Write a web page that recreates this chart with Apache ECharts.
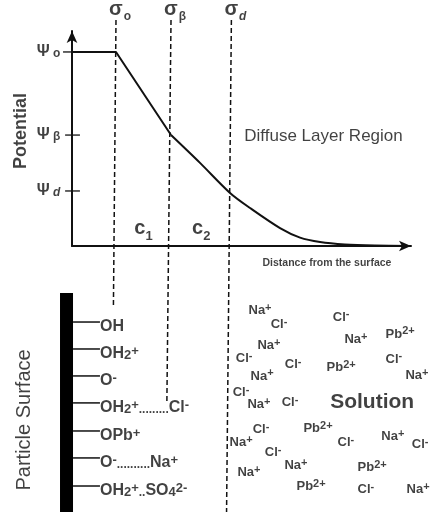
<!DOCTYPE html>
<html><head><meta charset="utf-8">
<script src="https://cdn.jsdelivr.net/npm/echarts@6/dist/echarts.min.js"></script>
<style>html,body{margin:0;padding:0;background:#fff}#c{width:430px;height:512px}</style>
</head><body><div id="c"></div>
<script>
// ---------------- data ----------------
// potential curve: distance from surface vs potential
const curveDistance  = [0, 12.75, 28.7, 37.1, 45.8, 51.6, 60.3, 66.1, 71.9, 79.1, 87.8, 98.0];
const curvePotential = [87.8, 87.8, 50.2, 37.6, 24.0, 17.2, 8.1, 3.8, 1.8, 0.7, 0.2, 0];
// potential levels marked on the y axis
const potentialTickNames  = ['o', 'β', 'd'];
const potentialTickValues = [87.8, 50.2, 24.9];
// charge planes (sigma) : distance at top and bottom of their dashed lines
const planeNames          = ['o', 'β', 'd'];
const planeTopDistance    = [12.75, 28.7, 46.2];
const planeBottomDistance = [12.0, 27.5, 44.8];
const planeBottomDepth    = [-28.1, -70.6, -120.4];
const planeTopLevel       = 102.3;
// capacitance regions
const regionNames = ['1', '2'];
const regionLevel = 7.7;
// particle surface groups
const surfaceGroups = [
  'OH',
  'OH{sub|2}{sup|+}',
  'O{sup|-}',
  'OH{sub|2}{sup|+}{dot|.........}Cl{sup|-}',
  'OPb{sup|+}',
  'O{sup|-}{dot|..........}Na{sup|+}',
  'OH{sub|2}{sup|+}{dot|..}SO{sub|4}{sup|2-}'
];
const surfaceRowDepth = [-34.4, -46.6, -58.8, -71.0, -83.7, -95.9, -108.6];
// ions in solution
const ionNames = ['Na{sup|+}','Cl{sup|-}','Cl{sup|-}','Na{sup|+}','Na{sup|+}','Pb{sup|2+}','Cl{sup|-}','Cl{sup|-}','Pb{sup|2+}','Cl{sup|-}',
  'Na{sup|+}','Na{sup|+}','Cl{sup|-}','Na{sup|+}','Cl{sup|-}','Cl{sup|-}','Pb{sup|2+}','Na{sup|+}','Na{sup|+}','Cl{sup|-}',
  'Cl{sup|-}','Cl{sup|-}','Na{sup|+}','Pb{sup|2+}','Na{sup|+}','Pb{sup|2+}','Cl{sup|-}','Na{sup|+}'];
const ionDistance = [54.5, 60.0, 78.0, 57.1, 82.3, 95.1, 49.9, 64.1, 78.0, 93.3,
  55.1, 100.0, 49.0, 54.2, 63.2, 54.8, 71.3, 93.0, 49.0, 79.4,
  100.9, 58.3, 64.9, 87.0, 51.3, 69.3, 85.2, 100.3];
const ionDepth = [-29.0, -35.7, -32.1, -45.2, -42.1, -39.8, -50.7, -53.8, -54.8, -51.1,
  -58.8, -58.4, -66.1, -71.5, -71.0, -82.8, -82.4, -86.0, -89.1, -89.1,
  -90.0, -93.2, -99.1, -100.0, -102.3, -109.0, -110.0, -110.0];
const titles = {
  potential: 'Potential',
  distance: 'Distance from the surface',
  diffuse: 'Diffuse Layer Region',
  surface: 'Particle Surface',
  solution: 'Solution'
};

// ---------------- layout ----------------
const W = 430, H = 512;
const ORIGIN_X = 72, ORIGIN_Y = 246;      // pixel of (0,0)
const PX_X = 3.45, PX_Y = 2.21;           // pixels per unit
const AXIS_END_X = 411, AXIS_END_Y = 31;
const FONT = '"Liberation Sans", Arial, Helvetica, sans-serif';
const INK = '#111';

const chart = echarts.init(document.getElementById('c'), null, {renderer: 'canvas'});

function lineSeries(points, style, smooth) {
  return {
    type: 'line', xAxisIndex: 1, yAxisIndex: 1, data: points,
    symbol: 'none', smooth: smooth || false, silent: true, animation: false,
    lineStyle: Object.assign({color: INK, width: 1.5}, style)
  };
}
function textSeries(items, label) {
  return {
    type: 'scatter', xAxisIndex: 1, yAxisIndex: 1, symbolSize: 0, silent: true, animation: false,
    data: items.map(it => ({value: [it[0], it[1]], name: it[2]})),
    label: Object.assign({show: true, color: INK, fontFamily: FONT, formatter: p => p.name}, label)
  };
}

const series = [];
// curve: linear between surface planes, smooth in the diffuse layer
const curvePts = curveDistance.map((d, i) => [d, curvePotential[i]]);
series.push(lineSeries(curvePts.slice(0, 3), {width: 2}));
series.push(lineSeries(curvePts.slice(2), {width: 2}, 0.3));
// potential ticks
potentialTickValues.forEach((v, i) => {
  series.push(lineSeries([[i === 0 ? -2.6 : -2.0, v], [i === 0 ? 0 : 2.3, v]], {width: 1.3}));
});
// dashed planes
planeTopDistance.forEach((d, i) => {
  series.push(lineSeries([[d, planeTopLevel], [planeBottomDistance[i], planeBottomDepth[i]]], {width: 1.5, type: [5, 3]}));
});
// particle surface bar
series.push(lineSeries([[-1.59, -21.3], [-1.59, -125]], {width: 13, color: '#000'}));
// surface bonds
surfaceRowDepth.forEach(y => series.push(lineSeries([[0.3, y], [8.1, y]], {width: 1.5})));

// texts
series.push(textSeries(potentialTickNames.map((n, i) => [-3.4, potentialTickValues[i], n]), {
  position: 'left', distance: 0,
  formatter: p => '{psi|Ψ} ' + (p.name === 'd' ? '{sbi|d}' : '{sb|' + p.name + '}'),
  rich: {
    psi: {fontSize: 16, fontWeight: 'bold', fontFamily: FONT, color: INK},
    sb: {fontSize: 12, fontWeight: 'bold', fontFamily: FONT, color: INK, verticalAlign: 'bottom', lineHeight: 16},
    sbi: {fontSize: 12, fontWeight: 'bold', fontStyle: 'italic', fontFamily: FONT, color: INK, verticalAlign: 'bottom', lineHeight: 16}
  }
}));
series.push(textSeries(planeNames.map((n, i) => [planeTopDistance[i], planeTopLevel, n]), {
  position: 'inside', offset: [4, -10],
  formatter: p => '{sig|σ}' + (p.name === 'd' ? '{sbi|d}' : '{sb|' + p.name + '}'),
  rich: {
    sig: {fontSize: 20, fontWeight: 'bold', fontFamily: FONT, color: INK, lineHeight: 20},
    sb: {fontSize: 12, fontWeight: 'bold', fontFamily: FONT, color: INK, verticalAlign: 'bottom', lineHeight: 20, padding: [0, 0, -3, 1]},
    sbi: {fontSize: 12, fontWeight: 'bold', fontStyle: 'italic', fontFamily: FONT, color: INK, verticalAlign: 'bottom', lineHeight: 20, padding: [0, 0, -3, 1]}
  }
}));
series.push(textSeries(regionNames.map((n, i) => [(planeTopDistance[i] + planeTopDistance[i + 1]) / 2, regionLevel, n]), {
  position: 'inside',
  formatter: p => '{c|c}{s|' + p.name + '}',
  rich: {
    c: {fontSize: 20, fontWeight: 'bold', fontFamily: FONT, color: INK, lineHeight: 20},
    s: {fontSize: 13, fontWeight: 'bold', fontFamily: FONT, color: INK, verticalAlign: 'bottom', lineHeight: 20, padding: [0, 0, -4, 0]}
  }
}));
series.push(textSeries([[72.9, 49.8, titles.diffuse]], {position: 'inside', fontSize: 17}));
series.push(textSeries([[73.9, -7.7, titles.distance]], {position: 'inside', fontSize: 10.5, fontWeight: 'bold'}));
series.push(textSeries([[-14.8, 52, titles.potential]], {position: 'inside', fontSize: 18, fontWeight: 'bold', rotate: 90}));
series.push(textSeries([[-13.9, -78.7, titles.surface]], {position: 'inside', fontSize: 20, rotate: 90}));
series.push(textSeries([[87.0, -70.6, titles.solution]], {position: 'inside', fontSize: 21, fontWeight: 'bold'}));

series.push(textSeries(surfaceGroups.map((g, i) => [8.1, surfaceRowDepth[i], g]), {
  position: 'right', distance: 0, offset: [0, 5], fontSize: 16, fontWeight: 'bold', lineHeight: 14,
  rich: {
    sub: {fontSize: 13, fontWeight: 'bold', fontFamily: FONT, color: INK, verticalAlign: 'middle', lineHeight: 14, padding: [3, 0, 0, 0]},
    sup: {fontSize: 13, fontWeight: 'bold', fontFamily: FONT, color: INK, verticalAlign: 'middle', lineHeight: 14, padding: [0, 0, 5, 0]},
    dot: {fontSize: 12, fontWeight: 'bold', fontFamily: FONT, color: INK, lineHeight: 14, verticalAlign: 'middle', padding: [3, 0, 0, 0]}
  }
}));
series.push(textSeries(ionNames.map((n, i) => [ionDistance[i], ionDepth[i], n]), {
  position: 'inside', fontSize: 13, fontWeight: 'bold', lineHeight: 14,
  rich: {sup: {fontSize: 11, fontWeight: 'bold', fontFamily: FONT, color: INK, verticalAlign: 'middle', lineHeight: 14, padding: [0, 0, 5, 0]}}
}));

const option = {
  backgroundColor: '#fff',
  animation: false,
  grid: [
    {left: ORIGIN_X, top: AXIS_END_Y, right: W - AXIS_END_X, bottom: H - ORIGIN_Y, containLabel: false, outerBoundsMode: 'none'},
    {left: 0, top: 0, right: 0, bottom: 0, containLabel: false, outerBoundsMode: 'none'}
  ],
  xAxis: [
    {type: 'value', gridIndex: 0, min: 0, max: (AXIS_END_X - ORIGIN_X) / PX_X,
     axisLine: {show: true, onZero: false, symbol: ['none', 'arrow'], symbolSize: [8, 12], lineStyle: {color: INK, width: 2}},
     axisTick: {show: false}, axisLabel: {show: false}, splitLine: {show: false}},
    {type: 'value', gridIndex: 1, min: -ORIGIN_X / PX_X, max: (W - ORIGIN_X) / PX_X, show: false}
  ],
  yAxis: [
    {type: 'value', gridIndex: 0, min: 0, max: (ORIGIN_Y - AXIS_END_Y) / PX_Y,
     axisLine: {show: true, onZero: false, symbol: ['none', 'arrow'], symbolSize: [8, 12], lineStyle: {color: INK, width: 2}},
     axisTick: {show: false}, axisLabel: {show: false}, splitLine: {show: false}},
    {type: 'value', gridIndex: 1, min: -(H - ORIGIN_Y) / PX_Y, max: ORIGIN_Y / PX_Y, show: false}
  ],
  series: series
};
chart.setOption(option);
</script>
</body></html>
